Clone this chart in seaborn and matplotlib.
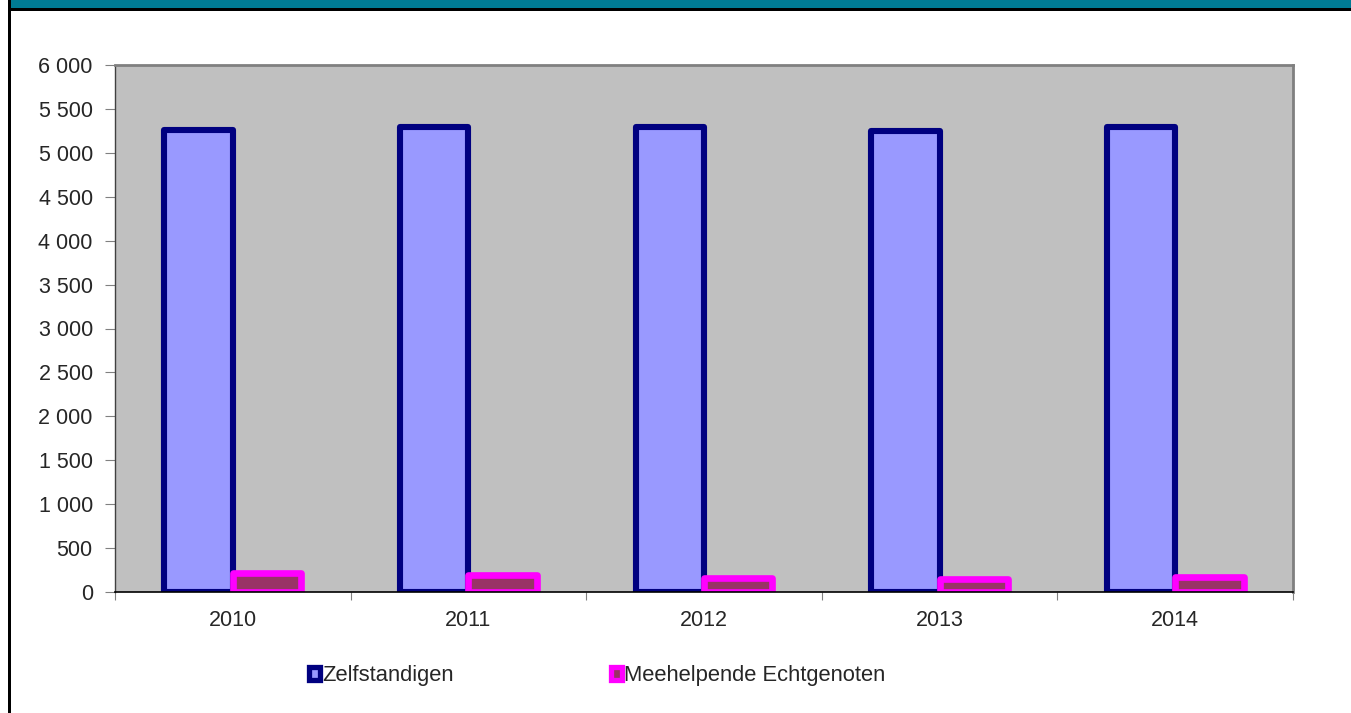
import numpy as np
import pandas as pd
import matplotlib
matplotlib.use('Agg')
import matplotlib.pyplot as plt
import seaborn as sns
from matplotlib.patches import Rectangle
from matplotlib.ticker import FuncFormatter, FixedLocator

# data
years = ['2010', '2011', '2012', '2013', '2014']
zelfstandigen = [5265, 5295, 5290, 5245, 5290]
meehelpend = [220, 195, 165, 150, 170]
series = ['Zelfstandigen', 'Meehelpende Echtgenoten']

df = pd.DataFrame({
    'jaar': years * 2,
    'aantal': zelfstandigen + meehelpend,
    'reeks': [series[0]] * len(years) + [series[1]] * len(years),
})

sns.set_style('white')
plt.rcParams['font.family'] = ['Liberation Sans', 'DejaVu Sans']

fig = plt.figure(figsize=(13.51, 7.13), dpi=100)
ax = fig.add_axes([115 / 1351, 121 / 713, 1178 / 1351, 527 / 713])

sns.barplot(data=df, x='jaar', y='aantal', hue='reeks', order=years,
            hue_order=series, palette=['#9999FF', '#993366'],
            width=0.58, saturation=1, ax=ax)

# bar outlines
n = len(years)
for i, p in enumerate(ax.patches[:2 * n]):
    if i < n:
        p.set_edgecolor('#000080')
        p.set_linewidth(4.4)
    else:
        p.set_edgecolor('#FF00FF')
        p.set_linewidth(4.8)
    p.set_joinstyle('round')

ax.set_facecolor('#C0C0C0')
ax.set_ylim(0, 6000)
ax.set_yticks(np.arange(0, 6001, 500))
ax.yaxis.set_major_formatter(FuncFormatter(lambda v, _: f'{int(v):,}'.replace(',', ' ')))
ax.set_xlim(-0.5, n - 0.5)
ax.xaxis.set_minor_locator(FixedLocator(np.arange(-0.5, n, 1.0)))
ax.tick_params(axis='x', which='major', length=0, pad=13, labelsize=15.5)
ax.tick_params(axis='x', which='minor', length=6, width=0.8, color='#808080', direction='out')
ax.tick_params(axis='y', length=7, width=0.8, color='#808080', direction='out', pad=9, labelsize=15.5)
ax.tick_params(bottom=True, left=True, which='both')
ax.set_xlabel('')
ax.set_ylabel('')

for s in ['top', 'right']:
    ax.spines[s].set_color('#808080')
    ax.spines[s].set_linewidth(2)
ax.spines['left'].set_color('#404040')
ax.spines['left'].set_linewidth(1)
ax.spines['bottom'].set_color('black')
ax.spines['bottom'].set_linewidth(1.2)

# legend
ax.legend_.remove()
handles = [Rectangle((0, 0), 1, 1, facecolor='#9999FF', edgecolor='#000080', linewidth=3.8),
           Rectangle((0, 0), 1, 1, facecolor='#993366', edgecolor='#FF00FF', linewidth=3.8)]
fig.legend(handles, series, loc='center left', bbox_to_anchor=(309 / 1351, 37 / 713),
           ncol=2, frameon=False, fontsize=15.8, handlelength=0.5, handleheight=0.5,
           handletextpad=0.1, columnspacing=7.15, borderaxespad=0, borderpad=0)

# header band and frame
fig.patches.append(Rectangle((11 / 1351, 1 - 8 / 713), 1, 8 / 713, transform=fig.transFigure,
                             facecolor='#007B94', edgecolor='none', zorder=0))
fig.patches.append(Rectangle((8 / 1351, 1 - 11 / 713), 1, 3 / 713, transform=fig.transFigure,
                             facecolor='black', edgecolor='none', zorder=1))
fig.patches.append(Rectangle((8 / 1351, 0), 3 / 1351, 1, transform=fig.transFigure,
                             facecolor='black', edgecolor='none', zorder=1))

fig.savefig('out.png', dpi=100)
